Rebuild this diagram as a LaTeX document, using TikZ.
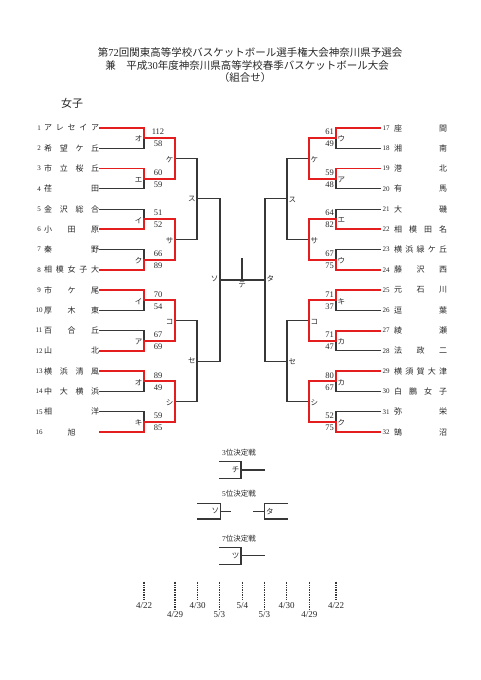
\documentclass[tikz,border=0pt]{standalone}
\usepackage{fontspec}
\setmainfont{Liberation Serif}
\newfontfamily\jp{Noto Sans CJK JP}
\definecolor{winred}{RGB}{228,30,30}
\definecolor{lgray}{RGB}{55,55,55}
\definecolor{txt}{RGB}{40,40,40}
\tikzset{
 bl/.style={draw=lgray,line width=1.1pt,line cap=rect},
 rd/.style={draw=winred,line width=1.8pt,line cap=rect},
 nm/.style={inner sep=0pt,text=txt,font=\jp\fontsize{8}{8}\selectfont},
 num/.style={inner sep=0pt,text=txt,font=\fontsize{7}{7}\selectfont},
 sc/.style={inner sep=0pt,text=txt,font=\fontsize{8.5}{8.5}\selectfont},
 lb/.style={inner sep=0pt,text=txt,font=\jp\fontsize{7.5}{7.5}\selectfont},
 ttl/.style={inner sep=0pt,text=txt,font=\jp\fontsize{10.5}{10.5}\selectfont},
 dt/.style={draw=lgray,line width=1.2pt,dash pattern=on 1pt off 0.7pt},
 dtl/.style={inner sep=0pt,text=txt,font=\fontsize{9}{9}\selectfont},
 pl/.style={inner sep=0pt,text=txt,font=\jp\fontsize{7.5}{7.5}\selectfont},
}
% left first-round match: index, top score, bottom score, label, winner (0 top / 1 bottom)
\newcommand\LM[5]{%
  \pgfmathsetmacro\yT{128+(2*#1-2)*20.267}%
  \pgfmathsetmacro\yM{\yT+10.133}%
  \pgfmathsetmacro\yW{\yT+#5*20.267}%
  \pgfmathsetmacro\yL{\yT+(1-#5)*20.267}%
  \draw[bl] (100,\yL) -- (144,\yL) -- (144,\yM);
  \draw[rd] (100,\yW) -- (144,\yW) -- (144,\yM) -- (175,\yM);
  \node[sc] (lsa#1) at (158,{\yM-6}) {#2};
  \node[sc] (lsb#1) at (158,{\yM+6}) {#3};
  \node[lb,anchor=east] (ll#1) at (142.5,{\yM+1}) {#4};
}
\newcommand\RM[5]{%
  \pgfmathsetmacro\yT{128+(2*#1-2)*20.267}%
  \pgfmathsetmacro\yM{\yT+10.133}%
  \pgfmathsetmacro\yW{\yT+#5*20.267}%
  \pgfmathsetmacro\yL{\yT+(1-#5)*20.267}%
  \draw[bl] (380,\yL) -- (336,\yL) -- (336,\yM);
  \draw[rd] (380,\yW) -- (336,\yW) -- (336,\yM) -- (309,\yM);
  \node[sc,anchor=east] (rsa#1) at (334,{\yM-6}) {#2};
  \node[sc,anchor=east] (rsb#1) at (334,{\yM+6}) {#3};
  \node[lb,anchor=west] (rl#1) at (337.5,{\yM+1}) {#4};
}
\begin{document}
\begin{tikzpicture}[x=1pt,y=-1pt]
\useasboundingbox[fill=white] (0,0) rectangle (481,680);
% titles
\node[ttl] (title1) at (250,53) {第{\rmfamily 72}回関東高等学校バスケットボール選手権大会神奈川県予選会};
\node[ttl] (title2) at (247,65.5) {兼　平成{\rmfamily 30}年度神奈川県高等学校春季バスケットボール大会};
\node[ttl] (title3) at (245,78) {（組合せ）};
\node[ttl,font=\jp\fontsize{11}{11}\selectfont] (girls) at (72,103) {女子};
% left teams
\foreach \i/\tname in {1/{ア\hfill レ\hfill セ\hfill イ\hfill ア},2/{希\hfill 望\hfill ケ\hfill 丘},3/{市\hfill 立\hfill 桜\hfill 丘},4/{荏\hfill 田},5/{金\hfill 沢\hfill 総\hfill 合},6/{小\hfill 田\hfill 原},7/{秦\hfill 野},8/{相\hfill 模\hfill 女\hfill 子\hfill 大},9/{市\hfill ケ\hfill 尾},10/{厚\hfill 木\hfill 東},11/{百\hfill 合\hfill 丘},12/{山\hfill 北},13/{横\hfill 浜\hfill 清\hfill 風},14/{中\hfill 大\hfill 横\hfill 浜},15/{相\hfill 洋},16/{\hfill 旭\hfill}}{
  \node[num] (n\i) at (39,{128+(\i-1)*20.267}) {\i};
  \node[nm,anchor=west] (t\i) at (44,{128+(\i-1)*20.267}) {\hbox to 55pt{\tname}};
}
% right teams
\foreach \i/\tname in {17/{座\hfill 間},18/{湘\hfill 南},19/{港\hfill 北},20/{有\hfill 馬},21/{大\hfill 磯},22/{相\hfill 模\hfill 田\hfill 名},23/{横\hfill 浜\hfill 緑\hfill ケ\hfill 丘},24/{藤\hfill 沢\hfill 西},25/{元\hfill 石\hfill 川},26/{逗\hfill 葉},27/{綾\hfill 瀬},28/{法\hfill 政\hfill 二},29/{横\hfill 須\hfill 賀\hfill 大\hfill 津},30/{白\hfill 鵬\hfill 女\hfill 子},31/{弥\hfill 栄},32/{鵠\hfill 沼}}{
  \node[num] (n\i) at (386,{128+(\i-17)*20.267}) {\i};
  \node[nm,anchor=west] (t\i) at (394,{128+(\i-17)*20.267}) {\hbox to 53pt{\tname}};
}
% round 2
\foreach \j/\lab/\rlab in {1/ケ/ケ,2/サ/サ,3/コ/コ,4/シ/シ}{
  \pgfmathsetmacro\ya{138.133+(\j-1)*81.067}
  \pgfmathsetmacro\ym{\ya+20.267}
  \pgfmathsetmacro\yb{\ya+40.533}
  \draw[bl] (175,\ym) -- (197,\ym);
  \draw[rd] (175,\ya) -- (175,\yb);
  \node[lb,anchor=east] (lr2\j) at (173.5,{\ym+1}) {\lab};
  \draw[bl] (309,\ym) -- (287,\ym);
  \draw[rd] (309,\ya) -- (309,\yb);
  \node[lb,anchor=west] (rr2\j) at (310.5,{\ym+1.5}) {\rlab};
}
% round 3
\foreach \q/\lab in {1/ス,2/セ}{
  \pgfmathsetmacro\ya{158.4+(\q-1)*162.133}
  \pgfmathsetmacro\ym{\ya+40.533}
  \pgfmathsetmacro\yb{\ya+81.067}
  \draw[bl] (197,\ya) -- (197,\yb);
  \draw[bl] (197,\ym) -- (220,\ym);
  \node[lb,anchor=east] (lr3\q) at (195.8,\ym) {\lab};
  \draw[bl] (287,\ya) -- (287,\yb);
  \draw[bl] (287,\ym) -- (265,\ym);
  \node[lb,anchor=west] (rr3\q) at (288.5,{\ym+1}) {\lab};
}
% first round
\LM{1}{112}{58}{オ}{0}
\LM{2}{60}{59}{エ}{0}
\LM{3}{51}{52}{イ}{1}
\LM{4}{66}{89}{ク}{1}
\LM{5}{70}{54}{イ}{0}
\LM{6}{67}{69}{ア}{1}
\LM{7}{89}{49}{オ}{0}
\LM{8}{59}{85}{キ}{1}
\RM{1}{61}{49}{ウ}{0}
\RM{2}{59}{48}{ア}{0}
\RM{3}{64}{82}{エ}{1}
\RM{4}{67}{75}{ウ}{1}
\RM{5}{71}{37}{キ}{0}
\RM{6}{71}{47}{カ}{0}
\RM{7}{80}{67}{カ}{0}
\RM{8}{52}{75}{ク}{1}
% final
\draw[bl] (220,198.933) -- (220,361.067);
\draw[bl] (265,198.933) -- (265,361.067);
\draw[bl] (220,280) -- (265,280);
\draw[bl] (242,259) -- (242,280);
\node[lb,anchor=east] (so) at (218.5,279) {ソ};
\node[lb,anchor=west] (ta) at (266.5,279) {タ};
\node[lb,anchor=north] (te) at (242,282) {テ};
% placement games
\node[pl] (p3) at (239,452.7) {{\rmfamily 3}位決定戦};
\draw[bl] (220,461.7) -- (241,461.7) -- (241,478.3) -- (220,478.3);
\draw[bl] (241,470) -- (264,470);
\node[lb,anchor=east] (chi) at (239.5,470) {チ};
\node[pl] (p5) at (239,493.3) {{\rmfamily 5}位決定戦};
\draw[bl] (198,503.3) -- (220.7,503.3) -- (220.7,519) -- (198,519);
\draw[bl] (220.7,511.2) -- (230.7,511.2);
\node[lb,anchor=east] (so5) at (219.2,511.2) {ソ};
\draw[bl] (287.3,503.3) -- (264.3,503.3) -- (264.3,519) -- (287.3,519);
\draw[bl] (264.3,511.2) -- (254,511.2);
\node[lb,anchor=west] (ta5) at (265.8,511.2) {タ};
\node[pl] (p7) at (239,538.3) {{\rmfamily 7}位決定戦};
\draw[bl] (220,547.3) -- (241,547.3) -- (241,564.3) -- (220,564.3);
\draw[bl] (241,555.8) -- (264,555.8);
\node[lb,anchor=east] (tsu) at (239.5,555.8) {ツ};
% dates
\foreach \x/\dlab/\lg [count=\c] in {144/{4/22}/0,175/{4/29}/1,197.7/{4/30}/0,219.3/{5/3}/1,242.3/{5/4}/0,264.3/{5/3}/1,286.7/{4/30}/0,309.3/{4/29}/1,336/{4/22}/0}{
  \pgfmathsetmacro\yb{600+\lg*9.3}
  \draw[dt] (\x,581.7) -- (\x,\yb);
  \node[dtl,anchor=north] (d\c) at (\x,{\yb+2}) {\dlab};
}
\end{tikzpicture}
\end{document}
